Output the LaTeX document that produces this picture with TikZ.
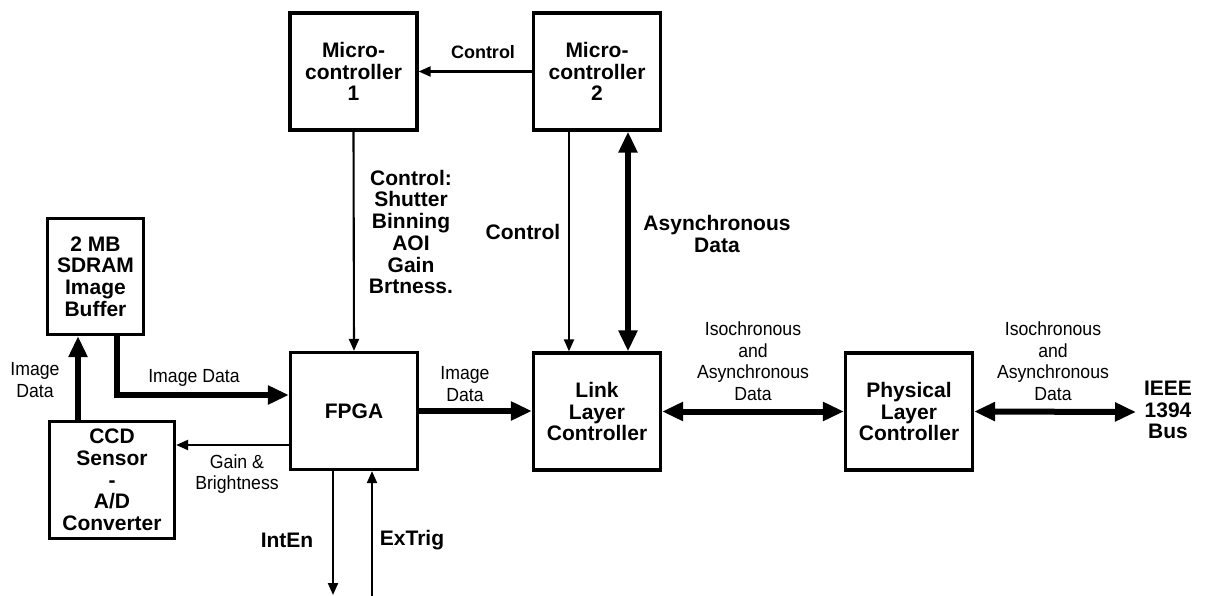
\documentclass[tikz,border=0pt]{standalone}
\usepackage{fontspec}
\setmainfont{Liberation Sans}
\newfontfamily\narrowfam[FakeStretch=0.93]{Liberation Sans}
\usetikzlibrary{arrows.meta}
\tikzset{
  blk/.style={draw, line width=3.2pt, minimum width=127pt, minimum height=117pt, align=center, inner sep=0pt,
    font=\fontsize{21}{21.7}\selectfont\bfseries},
  blab/.style={align=center, inner sep=0pt, font=\fontsize{21}{21.7}\selectfont\bfseries},
  rlab/.style={align=center, inner sep=0pt, font=\fontsize{19}{21.5}\selectfont\narrowfam},
  thinarr/.style={line width=2.1pt, -{Triangle[length=12pt,width=10pt]}},
  thickarr/.style={line width=6pt, -{Triangle[length=21pt,width=18pt]}},
  thickdbl/.style={line width=6pt, {Triangle[length=21pt,width=18pt]}-{Triangle[length=21pt,width=18pt]}}
}
\begin{document}
\begin{tikzpicture}[x=1pt,y=-1pt]
\useasboundingbox (0,0) rectangle (1205,596);
% blocks
\node[blk] (m1) at (353.5,71.5) {Micro-\\controller\\1};
\node[blk] (m2) at (597,71.5) {Micro-\\controller\\2};
\node[blk, minimum width=96pt, minimum height=116pt] (sdram) at (95.5,276.5) {2 MB\\SDRAM\\Image\\Buffer};
\node[blk] (fpga) at (354,411) {FPGA};
\node[blk] (link) at (597,411.5) {Link\\Layer\\Controller};
\node[blk] (phys) at (909,411.5) {Physical\\Layer\\Controller};
\node[blk, minimum width=125pt, minimum height=117pt] (ccd) at (112,480) {CCD\\Sensor\\-\\A/D\\Converter};
\node[blab, inner sep=0pt] (ieee) at (1168,410) {IEEE\\1394\\Bus};
\coordinate (busend) at (1136,412);
\coordinate (intend) at (333,595);
\coordinate (extstart) at (372,596);
% labels
\node[blab, font=\fontsize{18}{20}\selectfont\bfseries] (lctl1) at (483,52) {Control};
\node[blab] (lctl2) at (411,232) {Control:\\Shutter\\Binning\\AOI\\Gain\\Brtness.};
\node[blab] (lctl3) at (523,232) {Control};
\node[blab] (lasync) at (717,234) {Asynchronous\\Data};
\node[rlab] (limg1) at (194,378) {Image Data};
\node[rlab] (limg2) at (35,380) {Image\\Data};
\node[rlab] (lgain) at (237,474) {Gain \&\\Brightness};
\node[rlab] (limg3) at (465,384) {Image\\Data};
\node[rlab] (liso1) at (753,361) {Isochronous\\and\\Asynchronous\\Data};
\node[rlab] (liso2) at (1053,361) {Isochronous\\and\\Asynchronous\\Data};
\node[blab] (lint) at (287,540) {IntEn};
\node[blab] (lext) at (412,540) {ExTrig};
% connectors
\draw[thinarr] (m2.west) -- (m1.east);
\draw[thinarr] (m1.south) -- (fpga.north);
\draw[thinarr] ([xshift=-28pt]m2.south) -- ([xshift=-28pt]link.north);
\draw[thickdbl] ([xshift=31pt]m2.south) -- ([xshift=31pt]link.north);
\draw[thickarr, line join=miter] ([xshift=21.5pt]sdram.south) |- ([yshift=16pt]fpga.west);
\draw[thickarr] ([xshift=-34pt]ccd.north) -- ([xshift=-34pt]ccd.north |- sdram.south);
\draw[thinarr] ([yshift=-34pt]fpga.west) -- ([yshift=-34pt]fpga.west -| ccd.east);
\draw[thickarr] (fpga.east) -- (fpga.east -| link.west);
\draw[thickdbl] (link.east) -- (link.east -| phys.west);
\draw[thickdbl] (phys.east) -- (busend);
\draw[thinarr] ([xshift=-21pt]fpga.south) -- (intend);
\draw[thinarr] (extstart) -- ([xshift=18pt]fpga.south);
\end{tikzpicture}
\end{document}
